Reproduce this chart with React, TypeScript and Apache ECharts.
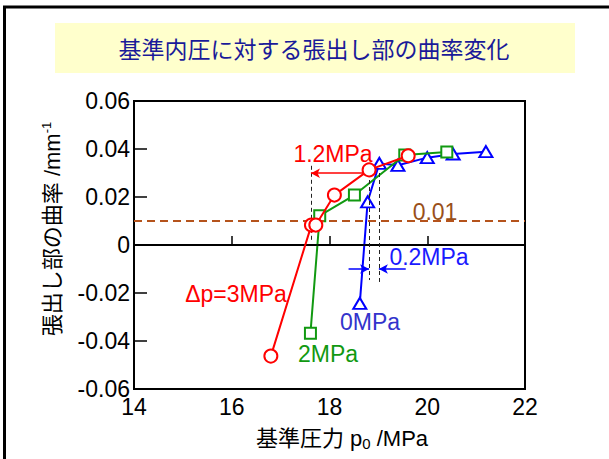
import React, { useEffect, useRef } from "react";
import * as echarts from "echarts";

// Δp = 3MPa (red circles)
const p3X = [16.8, 17.63, 17.72, 18.1, 18.81, 19.61];
const p3Y = [-0.0463, 0.0083, 0.0083, 0.0208, 0.0313, 0.0372];
// 2MPa (green squares)
const p2X = [17.61, 17.8, 18.51, 19.54, 20.4];
const p2Y = [-0.0368, 0.0122, 0.0208, 0.0375, 0.0388];
// 0MPa (blue triangles)
const p0X = [18.62, 18.78, 19.02, 19.4, 20.0, 20.53, 21.2];
const p0Y = [-0.0243, 0.018, 0.034, 0.0332, 0.0364, 0.0379, 0.0389];

const xTicks = [14, 16, 18, 20, 22];
const yTicks = [-0.06, -0.04, -0.02, 0, 0.02, 0.04, 0.06];
const threshold = 0.01;
// annotation reference positions (data units)
const diff12 = { from: 18.81, to: 17.62, y: 0.0299 };
const diff02 = { a: 18.81, b: 19.01, y: -0.01 };

const title = "基準内圧に対する張出し部の曲率変化";
const FONT = '"Liberation Sans", Arial, "Noto Sans CJK JP", sans-serif';

const zip = (xs: number[], ys: number[]) => xs.map((x, i) => [x, ys[i]]);

export default function App() {
  const ref = useRef<HTMLDivElement>(null);
  useEffect(() => {
    document.body.style.margin = "0";
    if (!ref.current) return;
    const chart = echarts.init(ref.current, undefined, { renderer: "svg" });
    const dashBlack = { color: "#222", width: 1, type: [4, 3] as any };
    const ann = (text: string, x: number, y: number, fill: string) => ({
      type: "text",
      x,
      y,
      style: { text, fill, font: "23px " + FONT, align: "center", verticalAlign: "middle" },
    });
    chart.setOption({
      animation: false,
      backgroundColor: "#fff",
      grid: {
        left: 134,
        top: 101,
        width: 391,
        height: 288,
        show: true,
        borderColor: "#000",
        borderWidth: 2,
        containLabel: false,
      },
      xAxis: {
        type: "value",
        min: xTicks[0],
        max: xTicks[xTicks.length - 1],
        interval: 2,
        axisLine: { lineStyle: { color: "#000", width: 2 } },
        axisTick: { inside: true, length: 9, lineStyle: { color: "#000", width: 1.5 } },
        axisLabel: { color: "#000", fontSize: 23, fontFamily: FONT, margin: 6 },
        splitLine: { show: false },
      },
      yAxis: {
        type: "value",
        min: yTicks[0],
        max: yTicks[yTicks.length - 1],
        interval: 0.02,
        axisLine: { lineStyle: { color: "#000", width: 2 } },
        axisTick: { inside: true, length: 13, lineStyle: { color: "#000", width: 1.5 } },
        axisLabel: {
          color: "#000",
          fontSize: 23,
          fontFamily: FONT,
          margin: 4,
          formatter: (v: number) => (Math.abs(v) < 1e-9 ? "0" : v.toFixed(2)),
        },
        splitLine: { show: false },
      },
      series: [
        {
          type: "line",
          data: [],
          silent: true,
          markLine: {
            silent: true,
            symbol: "none",
            label: { show: false },
            data: [
              { yAxis: 0, lineStyle: { color: "#000", width: 1.5, type: "solid" } },
              { yAxis: threshold, lineStyle: { color: "#b5531c", width: 2, type: [8, 5] } },
              [
                { coord: [diff12.to, 0.033], lineStyle: dashBlack },
                { coord: [diff12.to, 0.002] },
              ],
              [
                { coord: [diff02.a, 0.03], lineStyle: dashBlack },
                { coord: [diff02.a, -0.0146] },
              ],
              [
                { coord: [diff02.b, 0.03], lineStyle: dashBlack },
                { coord: [diff02.b, -0.0154] },
              ],
            ],
          },
        },
        {
          type: "line",
          data: [],
          silent: true,
          markLine: {
            silent: true,
            symbol: ["none", "arrow"],
            symbolSize: [7, 9],
            label: { show: false },
            data: [
              [
                { coord: [diff12.from - 0.08, diff12.y], lineStyle: { color: "#ff0000", width: 1.5, type: "solid" } },
                { coord: [diff12.to, diff12.y] },
              ],
              [
                { coord: [diff02.a - 0.42, diff02.y], lineStyle: { color: "#0000ff", width: 1.5, type: "solid" } },
                { coord: [diff02.a, diff02.y] },
              ],
              [
                { coord: [diff02.b + 0.55, diff02.y], lineStyle: { color: "#0000ff", width: 1.5, type: "solid" } },
                { coord: [diff02.b, diff02.y] },
              ],
            ],
          },
        },
        {
          name: "0MPa",
          type: "line",
          data: zip(p0X, p0Y),
          symbol: "triangle",
          symbolSize: [13, 11],
          showSymbol: true,
          lineStyle: { color: "#0000ff", width: 2 },
          itemStyle: { color: "#fff", borderColor: "#0000ff", borderWidth: 2 },
          z: 3,
        },
        {
          name: "2MPa",
          type: "line",
          data: zip(p2X, p2Y),
          symbol: "rect",
          symbolSize: 11,
          lineStyle: { color: "#119911", width: 2 },
          itemStyle: { color: "#fff", borderColor: "#119911", borderWidth: 2 },
          z: 4,
        },
        {
          name: "3MPa",
          type: "line",
          data: zip(p3X, p3Y),
          symbol: "circle",
          symbolSize: 13,
          lineStyle: { color: "#ff0000", width: 2 },
          itemStyle: { color: "#fff", borderColor: "#ff0000", borderWidth: 2 },
          z: 5,
        },
      ],
      graphic: [
        {
          type: "rect",
          z: -10,
          shape: { x: 4.5, y: 7, width: 700, height: 600 },
          style: { fill: "none", stroke: "#000", lineWidth: 3 },
        },
        {
          type: "rect",
          z: -5,
          shape: { x: 55, y: 23, width: 520, height: 50 },
          style: { fill: "#ffffcc", stroke: "none" },
        },
        {
          type: "text",
          x: 314,
          y: 48,
          style: {
            text: title,
            fill: "#1a1a99",
            font: '23px "Noto Sans CJK JP", sans-serif',
            align: "center",
            verticalAlign: "middle",
          },
        },
        {
          type: "text",
          x: 52,
          y: 229,
          rotation: Math.PI / 2,
          style: {
            text: "張出し部の曲率 /mm{sup|-1}",
            fill: "#000",
            fontSize: 22,
            fontFamily: FONT,
            align: "center",
            verticalAlign: "middle",
            rich: {
              sup: { fontSize: 13, fontFamily: FONT, fill: "#000", padding: [0, 0, 12, 0] },
            },
          },
        },
        {
          type: "text",
          x: 342,
          y: 438,
          style: {
            text: "基準圧力 p{sub|0} /MPa",
            fill: "#000",
            fontSize: 22,
            fontFamily: FONT,
            align: "center",
            verticalAlign: "middle",
            rich: {
              sub: { fontSize: 15, fontFamily: FONT, fill: "#000", padding: [10, 0, 0, 0] },
            },
          },
        },
        ann("1.2MPa", 333, 154, "#ff0000"),
        ann("0.01", 435, 212, "#99501a"),
        ann("0.2MPa", 429, 257, "#1a1aff"),
        ann("Δp=3MPa", 236, 294, "#ff0000"),
        ann("0MPa", 370, 322, "#3333cc"),
        ann("2MPa", 328, 354, "#119911"),
      ],
    });
    return () => chart.dispose();
  }, []);
  return <div ref={ref} style={{ width: 609, height: 459 }} />;
}
